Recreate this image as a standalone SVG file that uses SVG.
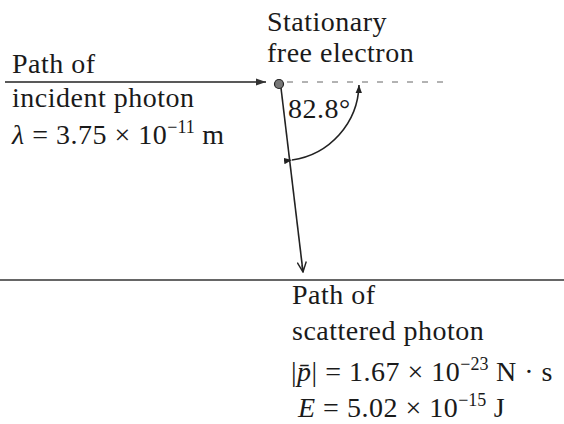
<svg xmlns="http://www.w3.org/2000/svg" width="564" height="424" viewBox="0 0 564 424">
<style>
text{font-family:"Liberation Serif","Times New Roman",serif;fill:#1a1a1a;font-size:28px;letter-spacing:0.5px}
.sup{font-size:18px;letter-spacing:0}
.ln{stroke:#222;stroke-width:1.6;fill:none}
</style>
<defs>
<marker id="ah" viewBox="0 0 10 10" refX="10" refY="5" markerWidth="8" markerHeight="8" orient="auto" markerUnits="userSpaceOnUse">
<path d="M0,1 L10,5 L0,9 Z" fill="#222"/>
</marker>
<marker id="ah2" viewBox="0 0 10 10" refX="10" refY="5" markerWidth="14" markerHeight="10" orient="auto" markerUnits="userSpaceOnUse">
<path d="M0,1.5 L10,5 L0,8.5 Z" fill="#333"/>
</marker>
<marker id="av" viewBox="0 0 10 10" refX="10" refY="5" markerWidth="12" markerHeight="10" orient="auto" markerUnits="userSpaceOnUse">
<path d="M0,0.5 L10,5 L0,9.5 M3,5 L10,5" fill="none" stroke="#222" stroke-width="1.4"/>
</marker>
</defs>
<line x1="0" y1="280" x2="564" y2="280" stroke="#333" stroke-width="1.5"/>
<g id="connectors">
<line class="ln" x1="5" y1="82" x2="266" y2="82" marker-end="url(#ah2)"/>
<line x1="287" y1="82" x2="444" y2="82" stroke="#666" stroke-width="1" stroke-dasharray="6,9"/>
<line class="ln" x1="281" y1="88" x2="303" y2="272" marker-end="url(#av)"/>
<path class="ln" d="M292,160 A78,78 0 0 0 359,85" stroke-width="1.3" marker-start="url(#ah)" marker-end="url(#ah)"/>
</g>
<g id="electron">
<circle cx="279" cy="84" r="4.5" fill="#777" stroke="#222" stroke-width="1.2"/>
<text x="267" y="31">Stationary</text>
<text x="267" y="62">free electron</text>
</g>
<g id="incident">
<text x="12" y="73">Path of</text>
<text x="12" y="107">incident photon</text>
<text x="12" y="144"><tspan font-style="italic">λ</tspan> = 3.75 × 10<tspan class="sup" dy="-11">−11</tspan><tspan dy="11"> m</tspan></text>
</g>
<g id="angle">
<text x="288" y="118">82.8°</text>
</g>
<g id="scattered">
<text x="292" y="304">Path of</text>
<text x="292" y="340">scattered photon</text>
<text x="291" y="381">|<tspan font-style="italic">p̄</tspan>| = 1.67 × 10<tspan class="sup" dy="-11">−23</tspan><tspan dy="11"> N · s</tspan></text>
<text x="298" y="417"><tspan font-style="italic">E</tspan> = 5.02 × 10<tspan class="sup" dy="-11">−15</tspan><tspan dy="11"> J</tspan></text>
</g>
</svg>
